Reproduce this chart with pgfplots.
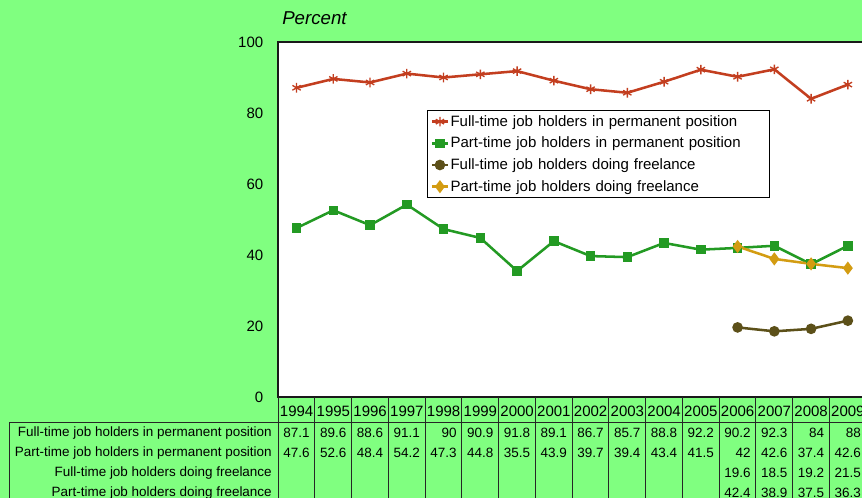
\documentclass[border=0pt]{standalone}
\usepackage{pgfplots}
\pgfplotsset{compat=1.18}
\usepackage{fontspec}
\setmainfont{Liberation Sans}

\definecolor{bg}{HTML}{80FF80}
\definecolor{cRed}{HTML}{C33E1F}
\definecolor{cGreen}{HTML}{239A23}
\definecolor{cOlive}{HTML}{5C5019}
\definecolor{cOrange}{HTML}{D39C12}

\newcommand{\tabfont}{\fontsize{10.1}{12}\selectfont}
\newcommand{\bigfont}{\fontsize{11.25}{13}\selectfont}

\begin{document}
\begin{tikzpicture}[x=0.75pt,y=-0.75pt]
\fill[bg] (0,0) rectangle (870,500);

\begin{axis}[
    at={(208.65pt,-297.75pt)}, anchor=south west,
    width=441pt, height=266.25pt, scale only axis,
    xmin=-0.5, xmax=15.5, ymin=0, ymax=100,
    xtick=\empty,
    ytick={0,20,...,100},
    major tick length=0pt,
    axis background/.style={fill=white},
    axis line style={line width=1.6pt, black!90},
    /pgf/number format/assume math mode=true,
    yticklabel style={font=\bigfont, inner sep=0pt, xshift=-11pt},
    legend style={at={(0.253,0.808)}, anchor=north west, draw=black,
        line width=0.6pt, font=\bigfont, row sep=4.6pt, inner sep=2.5pt,
        nodes={inner sep=1pt},
        /tikz/every even column/.append style={text width=236pt}},
    legend cell align=left,
    legend image code/.code={%
        \draw[mark repeat=2,mark phase=2] plot coordinates {(0cm,0cm) (0.21cm,0cm) (0.42cm,0cm)};},
    every axis plot/.append style={line width=1.9pt},
]
\addplot[color=cRed, mark=asterisk, mark size=3.6pt, mark options={line width=1pt}] coordinates {
  (0,87.1) (1,89.6) (2,88.6) (3,91.1) (4,90) (5,90.9) (6,91.8) (7,89.1)
  (8,86.7) (9,85.7) (10,88.8) (11,92.2) (12,90.2) (13,92.3) (14,84) (15,88)};
\addlegendentry{Full-time job holders in permanent position}
\addplot[color=cGreen, mark=square*, mark size=2.6pt] coordinates {
  (0,47.6) (1,52.6) (2,48.4) (3,54.2) (4,47.3) (5,44.8) (6,35.5) (7,43.9)
  (8,39.7) (9,39.4) (10,43.4) (11,41.5) (12,42) (13,42.6) (14,37.4) (15,42.6)};
\addlegendentry{Part-time job holders in permanent position}
\addplot[color=cOlive, mark=*, mark size=3pt] coordinates {
  (12,19.6) (13,18.5) (14,19.2) (15,21.5)};
\addlegendentry{Full-time job holders doing freelance}
\addplot[color=cOrange, mark=diamond*, mark size=3.4pt] coordinates {
  (12,42.4) (13,38.9) (14,37.5) (15,36.3)};
\addlegendentry{Part-time job holders doing freelance}
\end{axis}

\node[anchor=base west, inner sep=0pt, font=\fontsize{14}{16}\selectfont\itshape] at (282,25) {Percent};

% data table below the plot
\draw[black!85, line width=0.75pt] (9.3,500) -- (9.3,422.7) -- (870,422.7);
\foreach \i in {0,...,16} {
  \draw[black!85, line width=0.75pt] ({278.2+36.75*\i},397) -- ({278.2+36.75*\i},500);
}
\foreach \y [count=\i from 0] in {1994,1995,1996,1997,1998,1999,2000,2001,2002,2003,2004,2005,2006,2007,2008,2009} {
  \node[inner sep=0pt, font=\bigfont] at ({278.2+36.75*\i+18.4},411.5) {\y};
}
\node[anchor=east, inner sep=0pt, font=\tabfont] at (272,432.7) {Full-time job holders in permanent position};
\node[anchor=east, inner sep=0pt, font=\tabfont] at (272,452.7) {Part-time job holders in permanent position};
\node[anchor=east, inner sep=0pt, font=\tabfont] at (272,472.7) {Full-time job holders doing freelance};
\node[anchor=east, inner sep=0pt, font=\tabfont] at (272,492.7) {Part-time job holders doing freelance};
\foreach \v [count=\i from 1] in {87.1,89.6,88.6,91.1,90,90.9,91.8,89.1,86.7,85.7,88.8,92.2,90.2,92.3,84,88} {
  \node[anchor=east, inner sep=0pt, font=\tabfont] at ({278.2+36.75*\i-5},432.7) {\v};
}
\foreach \v [count=\i from 1] in {47.6,52.6,48.4,54.2,47.3,44.8,35.5,43.9,39.7,39.4,43.4,41.5,42,42.6,37.4,42.6} {
  \node[anchor=east, inner sep=0pt, font=\tabfont] at ({278.2+36.75*\i-5},452.7) {\v};
}
\foreach \v [count=\i from 13] in {19.6,18.5,19.2,21.5} {
  \node[anchor=east, inner sep=0pt, font=\tabfont] at ({278.2+36.75*\i-5},472.7) {\v};
}
\foreach \v [count=\i from 13] in {42.4,38.9,37.5,36.3} {
  \node[anchor=east, inner sep=0pt, font=\tabfont] at ({278.2+36.75*\i-5},492.7) {\v};
}

\pgfresetboundingbox
\path[use as bounding box] (0,0) rectangle (862,498);
\end{tikzpicture}
\end{document}
